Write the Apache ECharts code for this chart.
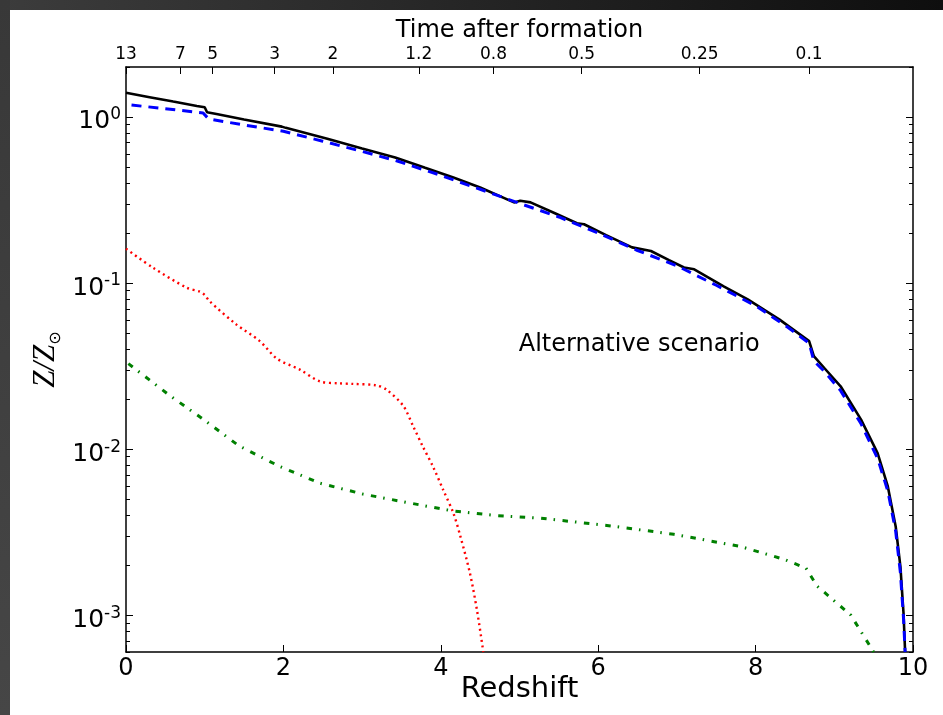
<!DOCTYPE html>
<html>
<head>
<meta charset="utf-8">
<script src="https://cdn.jsdelivr.net/npm/echarts@6/dist/echarts.min.js"></script>
<style>
  html, body { margin: 0; padding: 0; background: #ffffff; }
  #chart { width: 943px; height: 715px; }
</style>
</head>
<body>
<div id="chart"></div>
<script>
// Total metallicity (solid black)
const totalZ = [0, 0.3, 0.6, 0.9, 1.0, 1.03, 1.15, 1.5, 1.98, 2.03, 2.57, 3.0, 3.42, 3.8, 4.16, 4.5, 4.93, 5.01, 5.14, 5.45, 5.73, 5.82, 6.1, 6.43, 6.67, 6.9, 7.09, 7.22, 7.6, 7.9, 8.3, 8.68, 8.74, 8.87, 9.08, 9.34, 9.55, 9.68, 9.78, 9.84, 9.88, 9.9];
const totalMet = [1.40, 1.316, 1.238, 1.166, 1.144, 1.067, 1.042, 0.967, 0.875, 0.86, 0.736, 0.646, 0.571, 0.494, 0.432, 0.376, 0.306, 0.313, 0.306, 0.263, 0.229, 0.226, 0.1945, 0.164, 0.156, 0.1375, 0.124, 0.121, 0.0952, 0.0797, 0.0604, 0.0447, 0.0363, 0.0309, 0.0239, 0.01504, 0.00946, 0.00596, 0.00342, 0.00196, 0.00102, 0.0006];

// Dominant component (dashed blue)
const mainZ = [0.07, 0.5, 0.98, 1.05, 1.5, 2.0, 2.5, 3.0, 3.42, 4.0, 4.5, 5.0, 5.5, 6.0, 6.5, 7.0, 7.5, 8.0, 8.4, 8.68, 8.74, 8.87, 9.08, 9.34, 9.55, 9.68, 9.78, 9.84, 9.88, 9.9];
const mainMet = [1.18, 1.122, 1.057, 0.973, 0.895, 0.82, 0.715, 0.62, 0.548, 0.445, 0.367, 0.302, 0.25, 0.2, 0.157, 0.127, 0.097, 0.073, 0.0545, 0.0435, 0.034, 0.0295, 0.0225, 0.0142, 0.0088, 0.0056, 0.0032, 0.0018, 0.00095, 0.0006];

// Late component (dotted red)
const lateZ = [0, 0.34, 0.77, 0.94, 1.0, 1.06, 1.4, 1.7, 1.92, 2.21, 2.46, 2.7, 2.88, 3.18, 3.31, 3.52, 3.65, 3.77, 3.9, 4.03, 4.16, 4.25, 4.37, 4.46, 4.54];
const lateMet = [0.161, 0.124, 0.0938, 0.0887, 0.0847, 0.0778, 0.0564, 0.0447, 0.035, 0.0301, 0.0256, 0.0249, 0.0247, 0.0242, 0.0228, 0.0183, 0.0137, 0.0104, 0.00787, 0.00569, 0.00411, 0.00297, 0.00179, 0.00107, 0.0006];

// Early component (dash-dot green)
const earlyZ = [0.03, 0.54, 1.0, 1.43, 1.95, 2.46, 3.01, 3.57, 4.14, 4.71, 5.26, 6.11, 6.96, 7.81, 8.36, 8.64, 8.78, 9.21, 9.5];
const earlyMet = [0.0327, 0.0213, 0.0149, 0.0105, 0.00787, 0.00624, 0.00536, 0.00477, 0.00425, 0.00398, 0.00384, 0.00347, 0.00307, 0.00259, 0.00217, 0.00192, 0.0015, 0.001, 0.0006];

// Secondary time axis along the top
const timeTickZ = [0, 0.69, 1.10, 1.89, 2.63, 3.72, 4.67, 5.79, 7.29, 8.68];
const timeTickLabels = ['13', '7', '5', '3', '2', '1.2', '0.8', '0.5', '0.25', '0.1'];

// Log-axis ticks
const yMajor = [1e-3, 1e-2, 1e-1, 1];
const yMinor = [];
for (let e = -4; e <= 0; e++) {
  for (let m = 2; m <= 9; m++) {
    const v = m * Math.pow(10, e);
    if (v >= 6e-4 && v <= 2) yMinor.push(+v.toPrecision(3));
  }
}

const annotationText = 'Alternative scenario';
const annotationAt = [4.99, 0.0425];

const FONT = 'DejaVu Sans';
const zip = (xs, ys) => xs.map((x, i) => [x, ys[i]]);

const chart = echarts.init(document.getElementById('chart'), null, { renderer: 'canvas' });

const spine = { show: true, onZero: false, lineStyle: { color: '#000', width: 1.5 } };
const yRange = { type: 'log', logBase: 10, min: 6e-4, max: 2 };

const frame = [
  {
    id: 'frameTop', type: 'rect', silent: true, z: 100,
    shape: { x: 0, y: 0, width: 943, height: 10 },
    style: { fill: new echarts.graphic.LinearGradient(0, 0, 1, 0, [
      { offset: 0, color: '#3c3c3c' }, { offset: 1, color: '#0e0e0e' }
    ]) }
  },
  {
    id: 'frameLeft', type: 'rect', silent: true, z: 100,
    shape: { x: 0, y: 0, width: 10, height: 715 },
    style: { fill: new echarts.graphic.LinearGradient(0, 0, 0, 1, [
      { offset: 0, color: '#383838' }, { offset: 1, color: '#464646' }
    ]) }
  }
];

const option = {
  animation: false,
  backgroundColor: '#ffffff',
  grid: { left: 126, top: 67, width: 787, height: 585, containLabel: false },
  xAxis: [
    {
      type: 'value', position: 'bottom', min: 0, max: 10, interval: 2,
      axisLine: spine,
      axisTick: { show: true, inside: true, length: 7, lineStyle: { color: '#000', width: 1 } },
      axisLabel: { fontSize: 24, color: '#000', fontFamily: FONT, margin: 5 },
      splitLine: { show: false },
      name: 'Redshift', nameLocation: 'middle', nameGap: 23, nameMoveOverlap: false,
      nameTextStyle: { fontSize: 29, color: '#000', fontFamily: FONT }
    },
    {
      type: 'value', position: 'top', min: 0, max: 10,
      axisLine: spine,
      axisTick: { show: true, inside: true, length: 7, customValues: timeTickZ, lineStyle: { color: '#000', width: 1 } },
      axisLabel: {
        customValues: timeTickZ, fontSize: 17, color: '#000', fontFamily: FONT, margin: 4,
        formatter: function (v) {
          let best = 0;
          timeTickZ.forEach((z, i) => { if (Math.abs(z - v) < Math.abs(timeTickZ[best] - v)) best = i; });
          return timeTickLabels[best];
        }
      },
      splitLine: { show: false },
      name: 'Time after formation', nameLocation: 'middle', nameGap: 24, nameMoveOverlap: false,
      nameTextStyle: { fontSize: 24, color: '#000', fontFamily: FONT }
    }
  ],
  yAxis: [
    Object.assign({}, yRange, {
      position: 'left',
      axisLine: spine,
      axisTick: { show: true, inside: true, length: 7, customValues: yMajor, lineStyle: { color: '#000', width: 1 } },
      axisLabel: {
        customValues: yMajor, margin: 5, color: '#000', padding: [7, 0, 0, 0],
        formatter: function (v) { return '{b|10}{s|' + Math.round(Math.log10(v)) + '}'; },
        rich: {
          b: { fontSize: 25, fontFamily: FONT, color: '#000', lineHeight: 28, verticalAlign: 'bottom' },
          s: { fontSize: 17, fontFamily: FONT, color: '#000', lineHeight: 28, verticalAlign: 'top' }
        }
      },
      splitLine: { show: false },
      name: '{z|Z/Z}{o|⊙}', nameLocation: 'middle', nameGap: 62, nameRotate: 90, nameMoveOverlap: false,
      nameTextStyle: {
        fontFamily: 'Liberation Serif', fontStyle: 'italic',
        rich: {
          z: { fontSize: 31, fontFamily: 'Liberation Serif', fontStyle: 'italic', color: '#000', lineHeight: 34, verticalAlign: 'top' },
          o: { fontSize: 16, fontFamily: FONT, fontStyle: 'normal', color: '#000', lineHeight: 34, verticalAlign: 'bottom' }
        }
      }
    }),
    Object.assign({}, yRange, {
      position: 'left',
      axisLine: { show: false, onZero: false },
      axisTick: { show: true, inside: true, length: 4, customValues: yMinor, lineStyle: { color: '#000', width: 1 } },
      axisLabel: { show: false },
      splitLine: { show: false }
    }),
    Object.assign({}, yRange, {
      position: 'right',
      axisLine: spine,
      axisTick: { show: true, inside: true, length: 7, customValues: yMajor, lineStyle: { color: '#000', width: 1 } },
      axisLabel: { show: false },
      splitLine: { show: false }
    }),
    Object.assign({}, yRange, {
      position: 'right',
      axisLine: { show: false, onZero: false },
      axisTick: { show: true, inside: true, length: 4, customValues: yMinor, lineStyle: { color: '#000', width: 1 } },
      axisLabel: { show: false },
      splitLine: { show: false }
    })
  ],
  series: [
    {
      name: 'total', type: 'line', xAxisIndex: 0, yAxisIndex: 0, z: 3,
      data: zip(totalZ, totalMet), showSymbol: false, symbol: 'none',
      lineStyle: { color: '#000000', width: 2.6 }
    },
    {
      name: 'main', type: 'line', xAxisIndex: 0, yAxisIndex: 0, z: 4,
      data: zip(mainZ, mainMet), showSymbol: false, symbol: 'none',
      lineStyle: { color: '#0000ff', width: 3, type: [10, 7] }
    },
    {
      name: 'late', type: 'line', xAxisIndex: 0, yAxisIndex: 0, z: 2,
      data: zip(lateZ, lateMet), showSymbol: false, symbol: 'none', smooth: 0.3,
      lineStyle: { color: '#ff0000', width: 2.4, type: [2, 3.6] }
    },
    {
      name: 'early', type: 'line', xAxisIndex: 0, yAxisIndex: 0, z: 2,
      data: zip(earlyZ, earlyMet), showSymbol: false, symbol: 'none',
      lineStyle: { color: '#008000', width: 3, type: [5.5, 7, 1.5, 7.5] }
    }
  ],
  graphic: frame
};

chart.setOption(option);

// Place the scenario note in data coordinates
const p = chart.convertToPixel({ seriesIndex: 0 }, annotationAt);
chart.setOption({
  graphic: frame.concat([
    {
      id: 'note', type: 'text', silent: true, z: 50, x: p[0], y: p[1],
      style: { text: annotationText, fontSize: 24, fontFamily: FONT, fill: '#000', textAlign: 'left', textVerticalAlign: 'middle' }
    }
  ])
});
</script>
</body>
</html>
